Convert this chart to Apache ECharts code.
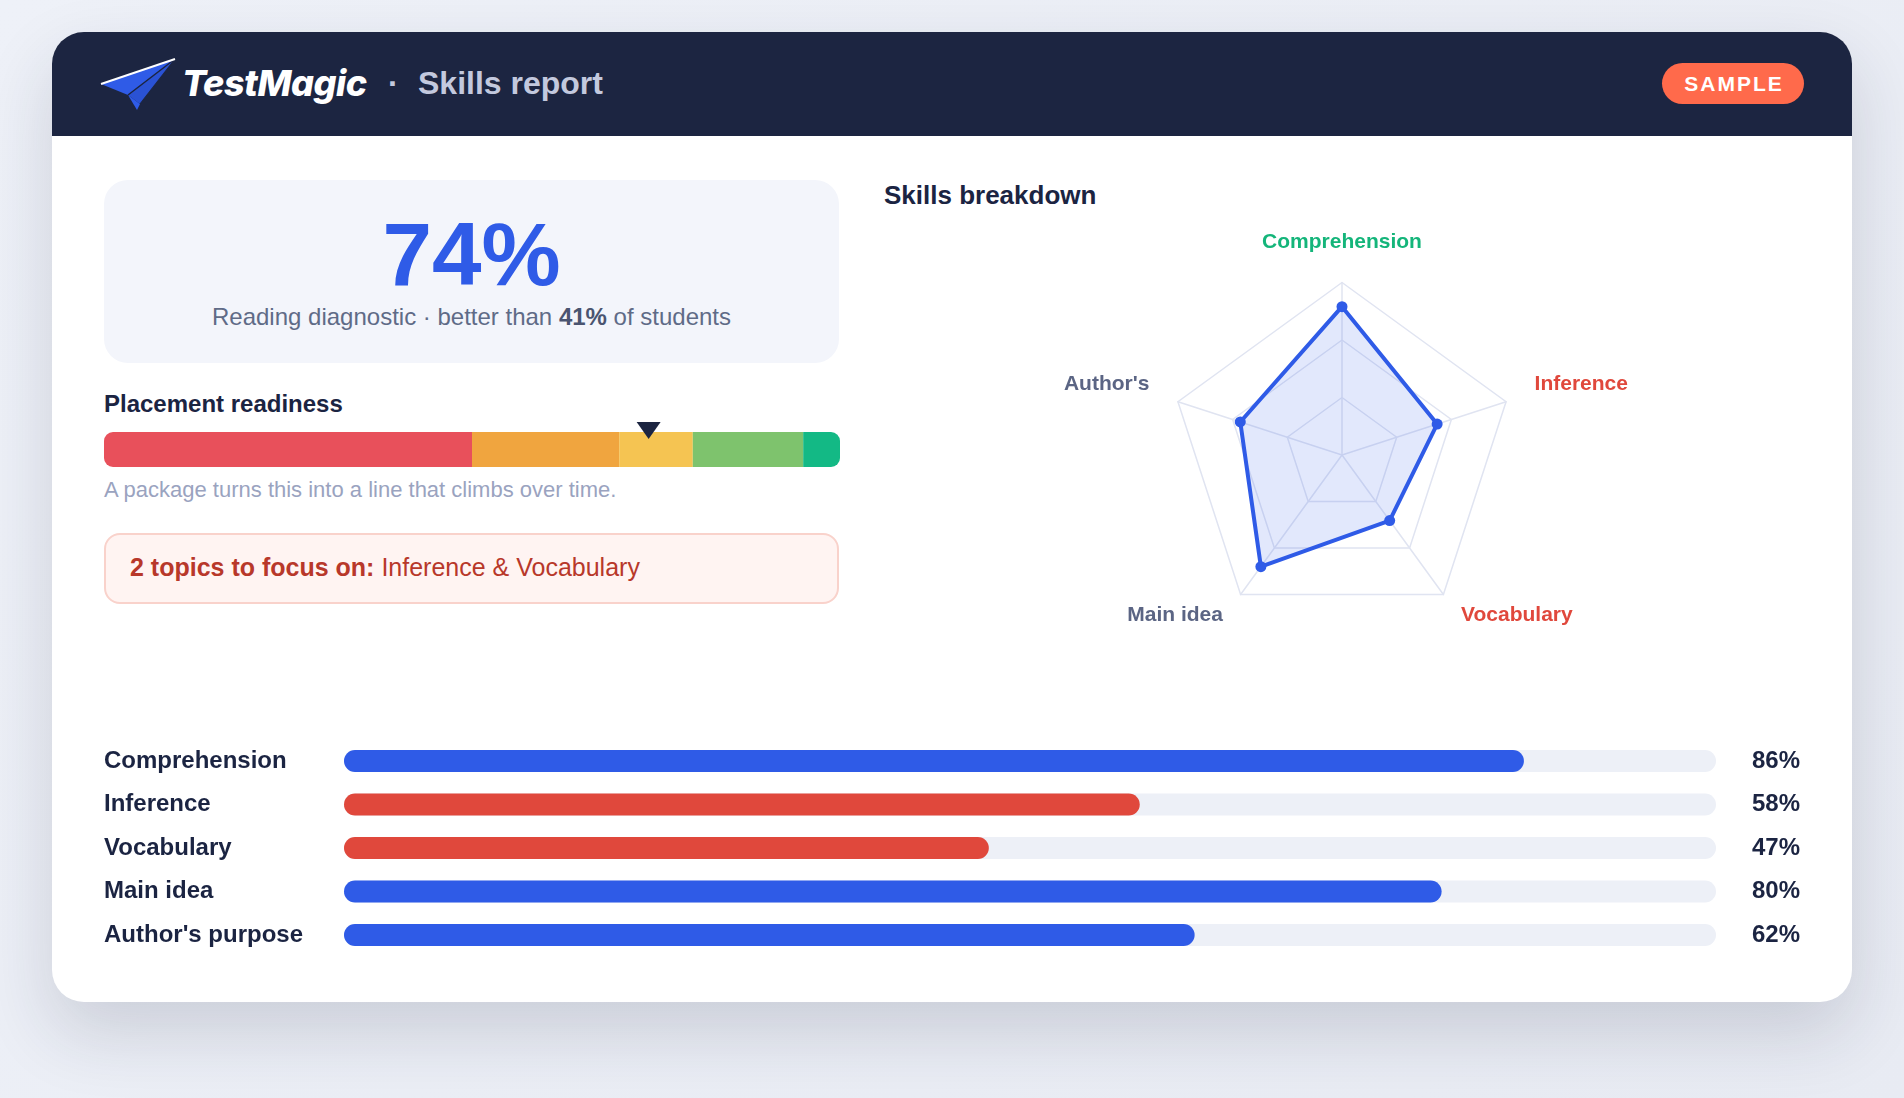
<!DOCTYPE html>
<html><head><meta charset="utf-8">
<script src="https://cdn.jsdelivr.net/npm/echarts@6/dist/echarts.min.js"></script>
<style>
html,body{margin:0;padding:0;width:1904px;height:1098px;overflow:hidden;}
body{background:linear-gradient(135deg,#eef1f8 0%,#e8ebf3 100%);font-family:"Liberation Sans",Arial,sans-serif;position:relative;}
.card{position:absolute;left:52px;top:32px;width:1800px;height:970px;background:#fff;border-radius:32px;box-shadow:0 30px 70px rgba(28,37,65,0.16);overflow:hidden;}
.header{position:absolute;left:0;top:0;width:100%;height:104px;background:#1c2541;}
.abs{position:absolute;white-space:nowrap;}
#chart{position:absolute;left:0;top:0;width:1904px;height:1098px;z-index:5;}
</style></head>
<body>
<div class="card"><div class="header"></div></div>

<svg class="abs" style="left:96px;top:54px;" width="84" height="60" viewBox="96 54 84 60">
  <polygon points="101,84 175,59 128,95" fill="#2f5be7"/>
  <polygon points="128,95 175,59 140,104" fill="#2a52d4"/>
  <polygon points="128,95 140,104 137,110" fill="#2f5be7"/>
  <polyline points="128,95 175,59" stroke="#1c2541" stroke-width="1.5" fill="none"/>
  <polyline points="140,104 175,59" stroke="#1c2541" stroke-width="1.2" fill="none"/>
  <polyline points="101,84 175,59" stroke="#ffffff" stroke-width="2" fill="none"/>
</svg>
<div class="abs" style="left:182px;top:65px;font-family:Inter,'Liberation Sans',sans-serif;font-weight:800;font-style:italic;font-size:36px;line-height:36px;color:#fff;letter-spacing:-0.5px;">TestMagic</div>
<div class="abs" style="left:388px;top:67px;font-size:32px;line-height:32px;color:#c3c9de;font-weight:bold;">·</div>
<div class="abs" style="left:418px;top:67px;font-size:32px;line-height:32px;color:#c3c9de;font-weight:bold;">Skills report</div>
<div class="abs" style="left:1662px;top:63px;width:142px;height:41px;border-radius:21px;background:#ff6a4b;color:#fff;font-weight:bold;font-size:21px;line-height:41px;letter-spacing:2px;text-align:center;text-indent:2px;">SAMPLE</div>

<div class="abs" style="left:104px;top:180px;width:735px;height:183px;border-radius:24px;background:#f3f5fb;"></div>
<div class="abs" id="scoreBig" style="left:104px;width:735px;top:210px;text-align:center;font-size:89px;line-height:89px;font-weight:bold;color:#2f5be7;"></div>
<div class="abs" id="scoreSub" style="left:104px;width:735px;top:305px;text-align:center;font-size:24px;line-height:24px;color:#5f6b87;"></div>

<div class="abs" style="left:104px;top:392px;font-size:24px;line-height:24px;font-weight:bold;color:#1b2442;">Placement readiness</div>
<div class="abs" style="left:104px;top:479px;font-size:22px;line-height:22px;color:#9aa3bf;">A package turns this into a line that climbs over time.</div>

<div class="abs" style="left:104px;top:533px;width:731px;height:67px;border:2px solid #f9d2cb;border-radius:16px;background:#fff4f2;"></div>
<div class="abs" id="focusText" style="left:130px;top:555px;font-size:25px;line-height:25px;color:#b8382a;"></div>

<div class="abs" style="left:884px;top:182px;font-size:26px;line-height:26px;font-weight:bold;color:#1b2442;">Skills breakdown</div>

<div id="chart"></div>
<script>
// ---- data ----
const skills = ["Comprehension", "Inference", "Vocabulary", "Main idea", "Author's purpose"];
const radarNames = ["Comprehension", "Inference", "Vocabulary", "Main idea", "Author's"];
const scores = [86, 58, 47, 80, 62];
const focusSkills = ["Inference", "Vocabulary"];
const overallScore = 74;
const percentile = 41;
const readinessBands = [50, 20, 10, 15, 5];
const readinessScore = 74;

// ---- styles ----
const BLUE = '#2f5be7', RED = '#e0483c', GREEN = '#14b57a', GRAY = '#5b6584', DARK = '#1b2442';
const bandColors = ['#e8505b', '#f0a53f', '#f5c452', '#7ec36d', '#13b985'];

document.getElementById('scoreBig').textContent = overallScore + '%';
document.getElementById('scoreSub').innerHTML = 'Reading diagnostic · better than <b style="color:#4a5470">' + percentile + '%</b> of students';
document.getElementById('focusText').innerHTML = '<b>' + focusSkills.length + ' topics to focus on:</b> ' + focusSkills.join(' &amp; ');

const isFocus = i => focusSkills.indexOf(skills[i]) >= 0;
const maxScore = Math.max.apply(null, scores);
const labelColor = i => isFocus(i) ? RED : (scores[i] === maxScore ? GREEN : GRAY);

// radar goes counter-clockwise in ECharts: order so that the layout runs clockwise
const order = [0, 4, 3, 2, 1];
const padFor = k => (k === 0 ? [0, 0, 0, 0] : (k === 1 || k === 4 ? [0, 0, 16, 0] : [0, 0, 8, 0]));
const rich = {};
skills.forEach((s, i) => {
  rich['n' + i] = { color: labelColor(i), fontSize: 21, fontWeight: 'bold', fontFamily: 'Liberation Sans, Arial', padding: padFor(i) };
});

const series = [];
readinessBands.forEach((b, k) => {
  const last = k === readinessBands.length - 1;
  series.push({
    type: 'bar', xAxisIndex: 0, yAxisIndex: 0, stack: 'ready', barWidth: 35,
    data: [b], silent: true,
    itemStyle: { color: bandColors[k], borderRadius: k === 0 ? [9, 0, 0, 9] : (last ? [0, 9, 9, 0] : 0) }
  });
});
series.push({
  type: 'scatter', xAxisIndex: 0, yAxisIndex: 0, data: [[readinessScore, 0]],
  symbol: 'triangle', symbolRotate: 180, symbolSize: [24, 17], symbolOffset: [0, -19],
  itemStyle: { color: '#1c2541', opacity: 1 }, z: 10
});
series.push({
  type: 'bar', xAxisIndex: 1, yAxisIndex: 1, barWidth: 22,
  showBackground: true, backgroundStyle: { color: '#edf0f7', borderRadius: 11 },
  data: scores.map((v, i) => ({ value: v, itemStyle: { color: isFocus(i) ? RED : BLUE } })),
  itemStyle: { borderRadius: 11 }
});
series.push({
  type: 'radar', radarIndex: 0, symbol: 'circle', symbolSize: 11,
  lineStyle: { color: BLUE, width: 4 }, itemStyle: { color: BLUE, opacity: 1 },
  areaStyle: { color: 'rgba(47,91,231,0.2)' },
  data: [{ value: order.map(i => scores[i]) }]
});

const chart = echarts.init(document.getElementById('chart'), null, { renderer: 'canvas' });
chart.setOption({
  animation: false,
  backgroundColor: 'transparent',
  textStyle: { fontFamily: 'Liberation Sans, Arial, sans-serif' },
  grid: [
    { left: 104, top: 432, width: 736, height: 35 },
    { left: 344, top: 739.25, width: 1372, height: 217.5 }
  ],
  xAxis: [
    { gridIndex: 0, type: 'value', min: 0, max: 100, show: false },
    { gridIndex: 1, type: 'value', min: 0, max: 100, show: false }
  ],
  yAxis: [
    { gridIndex: 0, type: 'category', data: ['readiness'], show: false },
    { gridIndex: 1, type: 'category', data: skills, inverse: true,
      axisLine: { show: false }, axisTick: { show: false },
      axisLabel: { align: 'left', margin: 240, fontSize: 24, fontWeight: 'bold', color: DARK } },
    { gridIndex: 1, type: 'category', position: 'right', data: scores.map(v => v + '%'), inverse: true,
      axisLine: { show: false }, axisTick: { show: false },
      axisLabel: { align: 'left', margin: 36, fontSize: 24, fontWeight: 'bold', color: DARK } }
  ],
  radar: {
    center: [1342, 455], radius: 172.5, startAngle: 90, splitNumber: 3, shape: 'polygon',
    nameGap: 30,
    indicator: order.map(i => ({ name: radarNames[i], max: 100, color: labelColor(i) })),
    axisName: {
      fontSize: 21, fontWeight: 'bold',
      formatter: function (name) { const i = radarNames.indexOf(name); return '{n' + i + '|' + name + '}'; },
      rich: rich
    },
    splitLine: { lineStyle: { color: '#e0e4f1', width: 1.5 } },
    axisLine: { lineStyle: { color: '#e0e4f1', width: 1.5 } },
    splitArea: { show: false }
  },
  series: series
});
</script>
</body></html>
